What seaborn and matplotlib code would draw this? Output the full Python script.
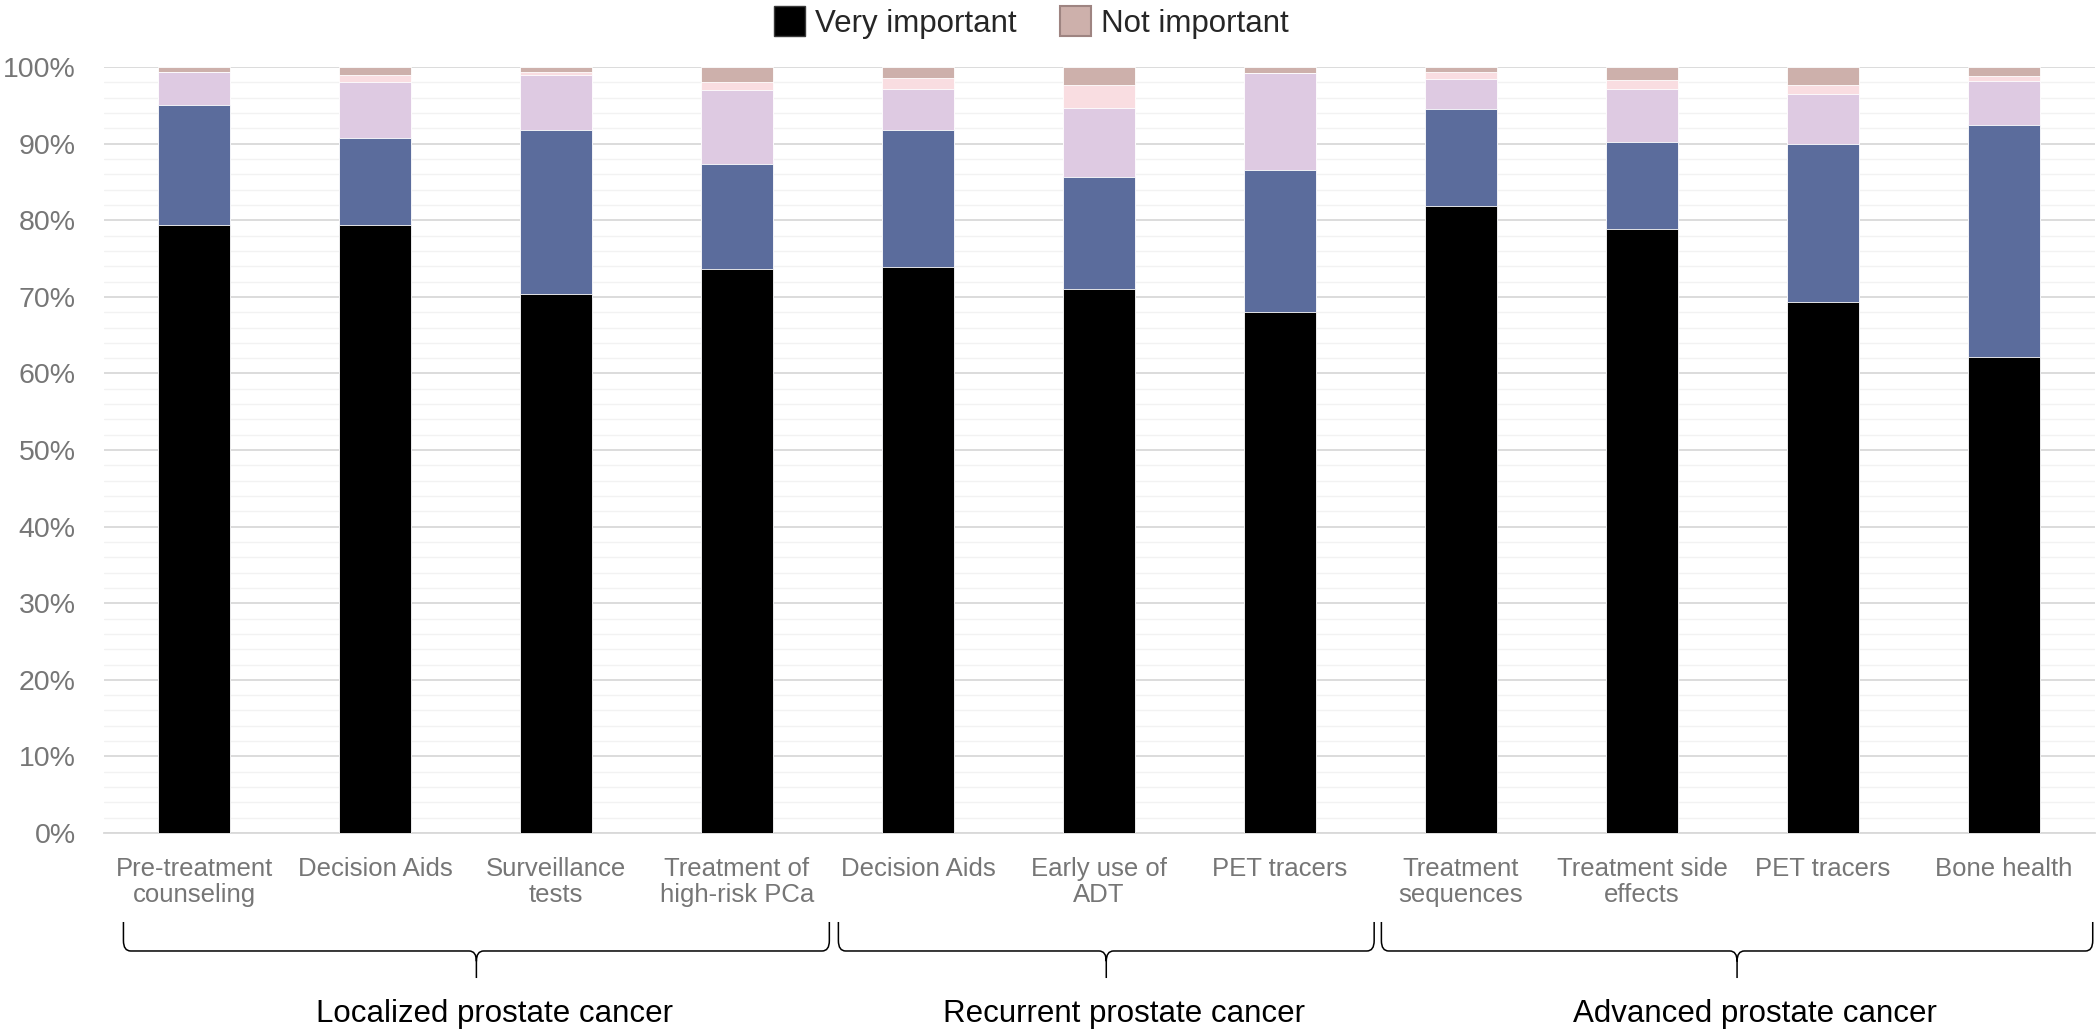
import matplotlib
matplotlib.use("Agg")
import matplotlib.pyplot as plt
import matplotlib.transforms as mtransforms
from matplotlib.patches import Patch, PathPatch
from matplotlib.path import Path
import numpy as np
import pandas as pd
import seaborn as sns

# --- data (percent of respondents) ---
categories = [
    "Pre-treatment\ncounseling", "Decision Aids", "Surveillance\ntests",
    "Treatment of\nhigh-risk PCa", "Decision Aids", "Early use of\nADT",
    "PET tracers", "Treatment\nsequences", "Treatment side\neffects",
    "PET tracers", "Bone health",
]
very_important = [79.4, 79.4, 70.4, 73.6, 73.9, 71.0, 68.0, 81.9, 78.9, 69.3, 62.1]
important = [15.7, 11.4, 21.4, 13.7, 17.9, 14.6, 18.6, 12.6, 11.3, 20.7, 30.3]
somewhat_important = [4.3, 7.3, 7.2, 9.7, 5.4, 9.05, 12.6, 3.9, 7.0, 6.5, 5.8]
slightly_important = [0.0, 0.9, 0.4, 1.1, 1.4, 3.05, 0.0, 1.0, 1.15, 1.15, 0.6]
not_important = [0.6, 1.0, 0.6, 1.9, 1.4, 2.3, 0.8, 0.6, 1.65, 2.35, 1.2]

groups = ["Localized prostate cancer", "Recurrent prostate cancer", "Advanced prostate cancer"]
group_spans = [(-0.39, 3.51), (3.56, 6.52), (6.56, 10.49)]

series_names = ["Very important", "Important", "Somewhat important",
                "Slightly important", "Not important"]
series_colors = ["#000000", "#5B6C9C", "#DECAE2", "#F9DDE1", "#CDB0AB"]

df = pd.DataFrame({
    "pos": range(len(categories)),
    "Very important": very_important,
    "Important": important,
    "Somewhat important": somewhat_important,
    "Slightly important": slightly_important,
    "Not important": not_important,
})

sns.set_style("white")
plt.rcParams["font.family"] = ["Liberation Sans", "DejaVu Sans"]

fig = plt.figure(figsize=(21, 10.32), dpi=100)
ax = fig.add_axes([0.0493, 0.1928, 0.9481, 0.7422])

# stacked bars: draw cumulative totals from the top series down
cum = df[series_names].cumsum(axis=1) / 100.0
for name, color in reversed(list(zip(series_names, series_colors))):
    sns.barplot(x=df["pos"], y=cum[name], color=color, width=0.4,
                edgecolor="white", linewidth=0.6, saturation=1, ax=ax, zorder=3)

ax.set_xlim(-0.5, 10.5)
ax.set_ylim(0, 1.0)
ax.set_yticks(np.arange(0, 1.01, 0.1))
ax.set_yticks(np.arange(0, 1.01, 0.02), minor=True)
ax.set_yticklabels([f"{int(round(v * 100))}%" for v in np.arange(0, 1.01, 0.1)])
ax.grid(axis="y", which="major", color="#D9D9D9", linewidth=1.3, zorder=0)
ax.grid(axis="y", which="minor", color="#F2F2F2", linewidth=1.0, zorder=0)
ax.set_axisbelow(True)
for side in ["top", "right", "left"]:
    ax.spines[side].set_visible(False)
ax.spines["bottom"].set_color("#D9D9D9")
ax.spines["bottom"].set_linewidth(1.3)

ax.set_xticks(range(len(categories)))
ax.set_xticklabels(categories, fontsize=18.5, color="#767676", linespacing=1.15)
ax.tick_params(axis="x", length=0, pad=17)
ax.tick_params(axis="y", which="both", length=0, pad=20, labelsize=20.5,
               labelcolor="#767676")
ax.set_xlabel("")
ax.set_ylabel("")

# group braces under the tick labels
trans = mtransforms.blended_transform_factory(ax.transData, fig.transFigure)
y_top, y_mid, y_tip = 0.1066, 0.0785, 0.0523
r, dx = 0.01, 0.04
for (x0, x1), label in zip(group_spans, groups):
    xc = (x0 + x1) / 2
    verts = [
        (x0, y_top), (x0, y_mid + r), (x0, y_mid), (x0 + dx, y_mid),
        (xc - dx, y_mid), (xc, y_mid), (xc, y_mid - r), (xc, y_tip),
        (xc, y_mid - r), (xc, y_mid), (xc + dx, y_mid),
        (x1 - dx, y_mid), (x1, y_mid), (x1, y_mid + r), (x1, y_top),
    ]
    codes = [
        Path.MOVETO, Path.LINETO, Path.CURVE3, Path.CURVE3,
        Path.LINETO, Path.CURVE3, Path.CURVE3, Path.LINETO,
        Path.MOVETO, Path.CURVE3, Path.CURVE3,
        Path.LINETO, Path.CURVE3, Path.CURVE3, Path.LINETO,
    ]
    ax.add_patch(PathPatch(Path(verts, codes), transform=trans, fill=False,
                           edgecolor="black", linewidth=1.1, clip_on=False))
    ax.text(xc + 0.1, 0.017, label, transform=trans, ha="center", va="center",
            fontsize=22.5, color="black")

handles = [
    Patch(facecolor="#000000", edgecolor="#3a3a3a", label="Very important"),
    Patch(facecolor="#CDB0AB", edgecolor="#9E8481", linewidth=1.5, label="Not important"),
]
fig.legend(handles=handles, loc="upper center", bbox_to_anchor=(0.491, 1.012),
           ncol=2, frameon=False, fontsize=22.5, handlelength=1.0, handleheight=1.1,
           handletextpad=0.3, columnspacing=1.4, borderpad=0.1)

fig.savefig("out.png", dpi=100, facecolor="white")
